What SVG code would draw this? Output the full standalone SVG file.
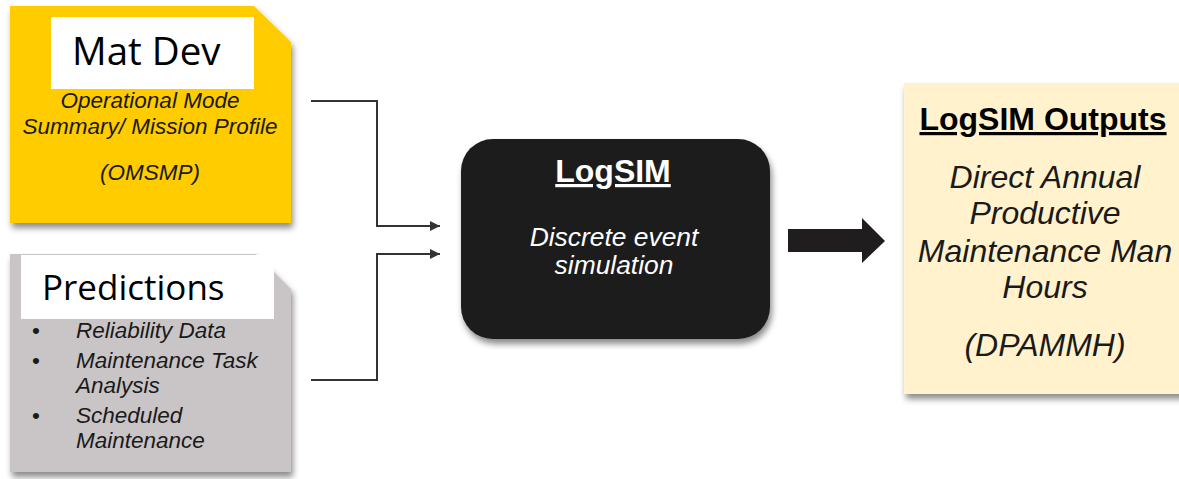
<svg xmlns="http://www.w3.org/2000/svg" width="1179" height="479" viewBox="0 0 1179 479">
<defs>
<filter id="sh" x="-10%" y="-10%" width="125%" height="130%">
<feDropShadow dx="2" dy="5" stdDeviation="3" flood-color="#000" flood-opacity="0.45"/>
</filter>
<marker id="ah" viewBox="0 0 10 10" refX="10" refY="5" markerWidth="5.5" markerHeight="5" markerUnits="strokeWidth" orient="auto">
<path d="M0,0 L10,5 L0,10 z" fill="#333"/>
</marker>
<style>
.it{font-family:"Liberation Sans",Arial,sans-serif;font-style:italic;fill:#1a1a1a;text-anchor:middle}
.lbl{font-family:"Open Sans","Noto Sans",sans-serif;fill:#000}
.bd{font-family:"Liberation Sans",Arial,sans-serif;font-weight:bold;text-anchor:middle;text-decoration:underline}
.conn{fill:none;stroke:#333;stroke-width:2}
</style>
</defs>
<rect width="1179" height="479" fill="#fff"/>
<g id="matdev">
<path d="M10,6 L254,6 L291,42 L291,223 L10,223 Z" fill="#FFCC00" filter="url(#sh)"/>
<rect x="51" y="17" width="203" height="72" fill="#fff"/>
<text class="lbl" x="72" y="65" font-size="38.5">Mat Dev</text>
<text class="it" x="150" y="108" font-size="22.5">Operational Mode</text>
<text class="it" x="150" y="134" font-size="22.5">Summary/ Mission Profile</text>
<text class="it" x="150" y="180" font-size="22.5">(OMSMP)</text>
</g>
<g id="predictions">
<path d="M10,254 L256,254 L291,289 L291,472 L10,472 Z" fill="#C9C5C6" filter="url(#sh)"/>
<rect x="21" y="255" width="253" height="64" fill="#fff"/>
<text class="lbl" x="42" y="300" font-size="35">Predictions</text>
<g font-family="Liberation Sans, Arial, sans-serif" font-size="22.5" fill="#1a1a1a">
<text x="32" y="338">•</text>
<text x="32" y="368">•</text>
<text x="32" y="423">•</text>
<g font-style="italic">
<text x="76" y="338">Reliability Data</text>
<text x="76" y="368">Maintenance Task</text>
<text x="76" y="393">Analysis</text>
<text x="76" y="423">Scheduled</text>
<text x="76" y="448">Maintenance</text>
</g>
</g>
</g>
<g id="logsim">
<rect x="461" y="139" width="309" height="200" rx="32" ry="32" fill="#1F1D1E" filter="url(#sh)"/>
<text class="bd" x="613" y="182" font-size="32" fill="#fff">LogSIM</text>
<text class="it" x="614" y="246" font-size="26.4" style="fill:#fff">Discrete event</text>
<text class="it" x="614" y="274" font-size="26.4" style="fill:#fff">simulation</text>
</g>
<g id="outputs">
<rect x="904" y="83" width="290" height="311" fill="#FFF2CC" filter="url(#sh)"/>
<text class="bd" x="1043" y="130" font-size="32" fill="#000">LogSIM Outputs</text>
<text class="it" x="1045" y="188" font-size="32">Direct Annual</text>
<text class="it" x="1045" y="224" font-size="32">Productive</text>
<text class="it" x="1045" y="262" font-size="32">Maintenance Man</text>
<text class="it" x="1045" y="298" font-size="32">Hours</text>
<text class="it" x="1045" y="356" font-size="32">(DPAMMH)</text>
</g>
<g id="connectors">
<path class="conn" d="M311,101 L377,101 L377,226 L440,226" marker-end="url(#ah)"/>
<path class="conn" d="M311,380 L377,380 L377,254 L440,254" marker-end="url(#ah)"/>
<path d="M788,229 L862,229 L862,218 L885,241 L862,263 L862,252 L788,252 Z" fill="#1F1D1E"/>
</g>
</svg>
